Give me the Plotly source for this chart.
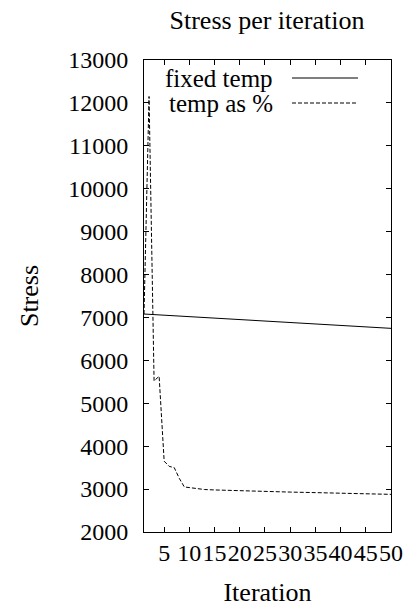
import plotly.graph_objects as go

# Data
fixed_x = [1, 25, 50]
fixed_y = [7080, 6915, 6746]

pct_x = [1, 2, 3, 4, 5, 6, 7, 8, 9, 10, 11, 12, 13, 15, 20, 25, 30, 35, 40, 45, 50]
pct_y = [7080, 12150, 5520, 5630, 3650, 3530, 3500, 3250, 3050, 3035, 3015, 3000,
         2990, 2980, 2960, 2945, 2930, 2918, 2905, 2890, 2877]

x_ticks = [5, 10, 15, 20, 25, 30, 35, 40, 45, 50]
y_ticks = [2000, 3000, 4000, 5000, 6000, 7000, 8000, 9000, 10000, 11000, 12000, 13000]

series_names = ["fixed temp", "temp as %"]

FONT = "Liberation Serif"
FS = 24      # tick labels
FT = 26      # titles
FL = 25      # legend

fig = go.Figure()
fig.add_trace(go.Scatter(x=fixed_x, y=fixed_y, mode="lines", name=series_names[0],
                         line=dict(color="black", width=1), showlegend=False))
fig.add_trace(go.Scatter(x=pct_x, y=pct_y, mode="lines", name=series_names[1],
                         line=dict(color="black", width=1, dash="4px,2px"), showlegend=False))

L, R, T, B = 144, 391, 60, 532
W, H = 405, 608

def px(xp):
    return (xp - L) / (R - L)

def py(yp):
    return (B - yp) / (B - T)

# gnuplot-style legend: text right-aligned, sample to the right
for i, (name, dash) in enumerate(zip(series_names, ["solid", "4px,2px"])):
    yy = py(78 + i * 25)
    fig.add_annotation(x=px(275), y=yy, xref="paper", yref="paper", text=name,
                       showarrow=False, xanchor="right", yanchor="middle",
                       font=dict(family=FONT, size=FL, color="black"))
    fig.add_shape(type="line", xref="paper", yref="paper", x0=px(292), x1=px(358),
                  y0=yy, y1=yy, line=dict(color="black", width=1, dash=dash))

fig.update_layout(
    template="none",
    width=W, height=H,
    margin=dict(l=L, r=W - R, t=T, b=H - B, autoexpand=False),
    paper_bgcolor="white", plot_bgcolor="white",
    font=dict(family=FONT, size=FS, color="black"),
    title=dict(text="Stress per iteration", x=267 / W, xref="container",
               xanchor="center", y=1 - 20 / H, yref="container", yanchor="middle",
               font=dict(family=FONT, size=FT, color="black")),
)
fig.update_xaxes(range=[1, 50], tickvals=x_ticks, ticktext=[str(v) for v in x_ticks],
                 tickangle=0, ticks="inside", ticklen=5, tickcolor="black",
                 showline=True, linecolor="black", linewidth=1, mirror="ticks",
                 showgrid=False, zeroline=False, ticklabelstandoff=-1, automargin=False,
                 title=dict(text="Iteration", standoff=18,
                            font=dict(family=FONT, size=FT, color="black")),
                 tickfont=dict(family=FONT, size=FS, color="black"))
fig.update_yaxes(range=[2000, 13000], tickvals=y_ticks, ticktext=[str(v) for v in y_ticks],
                 ticks="inside", ticklen=5, tickcolor="black",
                 showline=True, linecolor="black", linewidth=1, mirror="ticks",
                 showgrid=False, zeroline=False, ticklabelstandoff=10, automargin=False,
                 title=dict(text="Stress", standoff=22,
                            font=dict(family=FONT, size=FT, color="black")),
                 tickfont=dict(family=FONT, size=FS, color="black"))

fig.write_html("out.html", config={"displayModeBar": False},
               post_script="document.body.style.margin='0';document.body.style.overflow='hidden';")
